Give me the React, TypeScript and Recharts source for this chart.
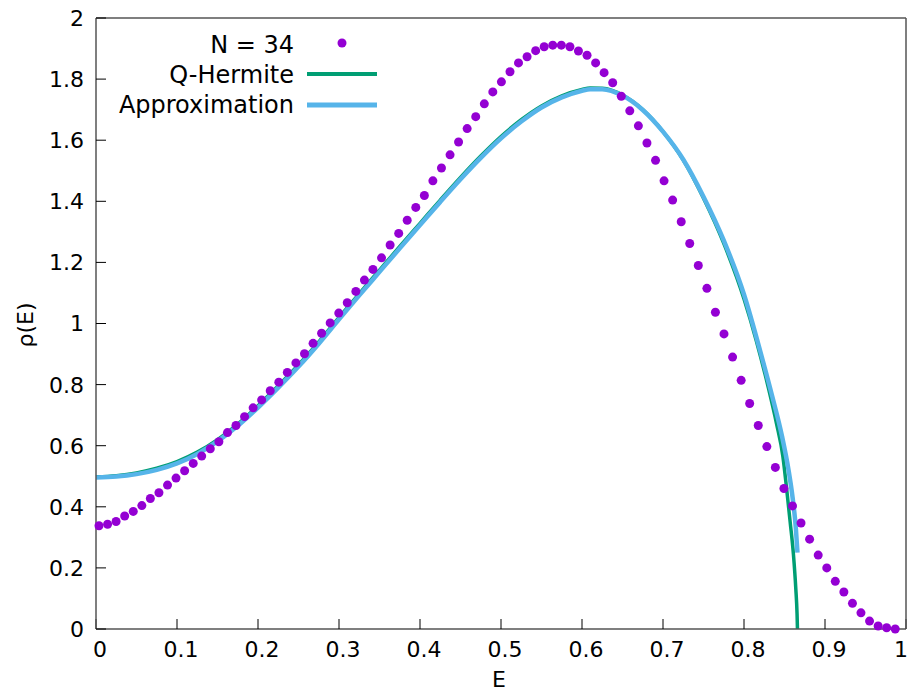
import React from 'react';
import { ComposedChart, XAxis, YAxis, Scatter, Line, Customized } from 'recharts';

const dotE = [
  0.0037, 0.0143, 0.0248, 0.0354, 0.0460, 0.0566, 0.0671, 0.0777, 0.0883, 0.0988,
  0.1094, 0.1200, 0.1305, 0.1411, 0.1517, 0.1623, 0.1728, 0.1834, 0.1940, 0.2045,
  0.2151, 0.2257, 0.2362, 0.2468, 0.2574, 0.2680, 0.2785, 0.2891, 0.2997, 0.3102,
  0.3208, 0.3314, 0.3419, 0.3525, 0.3631, 0.3737, 0.3842, 0.3948, 0.4054, 0.4159,
  0.4265, 0.4371, 0.4476, 0.4582, 0.4688, 0.4794, 0.4899, 0.5005, 0.5111, 0.5216,
  0.5322, 0.5428, 0.5533, 0.5639, 0.5745, 0.5851, 0.5956, 0.6062, 0.6168, 0.6273,
  0.6379, 0.6485, 0.6590, 0.6696, 0.6802, 0.6908, 0.7013, 0.7119, 0.7225, 0.7330,
  0.7436, 0.7542, 0.7647, 0.7753, 0.7859, 0.7965, 0.8070, 0.8176, 0.8282, 0.8387,
  0.8493, 0.8599, 0.8704, 0.8810, 0.8916, 0.9022, 0.9127, 0.9233, 0.9339, 0.9444,
  0.9550, 0.9656, 0.9761, 0.9867,
];
const dotRho = [
  0.338, 0.343, 0.352, 0.370, 0.385, 0.404, 0.427, 0.446, 0.471, 0.494,
  0.518, 0.542, 0.566, 0.590, 0.613, 0.643, 0.666, 0.695, 0.724, 0.750,
  0.780, 0.808, 0.840, 0.871, 0.901, 0.935, 0.968, 1.002, 1.034, 1.068,
  1.105, 1.142, 1.177, 1.215, 1.257, 1.295, 1.338, 1.380, 1.419, 1.467,
  1.509, 1.552, 1.594, 1.638, 1.677, 1.719, 1.758, 1.791, 1.824, 1.853,
  1.873, 1.893, 1.906, 1.911, 1.911, 1.906, 1.892, 1.878, 1.853, 1.821,
  1.788, 1.744, 1.696, 1.647, 1.591, 1.534, 1.467, 1.404, 1.333, 1.262,
  1.190, 1.115, 1.037, 0.966, 0.890, 0.814, 0.738, 0.666, 0.597, 0.529,
  0.460, 0.403, 0.347, 0.294, 0.242, 0.200, 0.156, 0.121, 0.084, 0.053,
  0.026, 0.010, 0.004, 0.000,
];

const hermE = [
  0, 0.025, 0.05, 0.075, 0.1, 0.125, 0.15, 0.175, 0.2, 0.225, 0.25, 0.275, 0.3,
  0.325, 0.35, 0.375, 0.4, 0.425, 0.45, 0.475, 0.5, 0.525, 0.55, 0.575, 0.6, 0.61,
  0.625, 0.65, 0.675, 0.7, 0.725, 0.75, 0.775, 0.8, 0.815, 0.83, 0.84, 0.848,
  0.853, 0.857, 0.861, 0.864, 0.8655, 0.866,
];
const hermRho = [
  0.498, 0.502, 0.511, 0.526, 0.548, 0.579, 0.620, 0.671, 0.731, 0.796, 0.865, 0.940, 1.020,
  1.098, 1.175, 1.252, 1.328, 1.404, 1.478, 1.548, 1.612, 1.667, 1.712, 1.745, 1.766, 1.771,
  1.770, 1.748, 1.700, 1.628, 1.535, 1.410, 1.262, 1.080, 0.945, 0.790, 0.674, 0.565,
  0.450, 0.350, 0.245, 0.130, 0.050, 0.000,
];

const approxE = [
  0, 0.025, 0.05, 0.075, 0.1, 0.125, 0.15, 0.175, 0.2, 0.225, 0.25, 0.275, 0.3,
  0.325, 0.35, 0.375, 0.4, 0.425, 0.45, 0.475, 0.5, 0.525, 0.55, 0.575, 0.6, 0.61,
  0.625, 0.65, 0.675, 0.7, 0.725, 0.75, 0.775, 0.8, 0.82, 0.835, 0.847, 0.855,
  0.86, 0.864, 0.866,
];
const approxRho = [
  0.496, 0.499, 0.507, 0.521, 0.542, 0.573, 0.614, 0.665, 0.725, 0.790, 0.859, 0.934, 1.014,
  1.092, 1.169, 1.246, 1.322, 1.398, 1.472, 1.542, 1.606, 1.661, 1.707, 1.740, 1.762, 1.767,
  1.767, 1.746, 1.699, 1.628, 1.537, 1.415, 1.272, 1.095, 0.910, 0.760, 0.630, 0.520,
  0.430, 0.330, 0.250,
];

const xTicks = [0, 0.1, 0.2, 0.3, 0.4, 0.5, 0.6, 0.7, 0.8, 0.9, 1];
const yTicks = [0, 0.2, 0.4, 0.6, 0.8, 1, 1.2, 1.4, 1.6, 1.8, 2];

const dots = dotE.map((x, i) => ({ x, y: dotRho[i] }));
const herm = hermE.map((x, i) => ({ x, y: hermRho[i] }));
const approx = approxE.map((x, i) => ({ x, y: approxRho[i] }));

const FONT = 'DejaVu Sans';
const PURPLE = '#9400d3';
const GREEN = '#009e73';
const BLUE = '#56b4e9';

const fmt = (v: number) => String(Number(v.toFixed(1)));

const Overlay = () => (
  <g fontFamily={FONT} fill="#000">
    <text x={294} y={53} fontSize={24} textAnchor="end">N = 34</text>
    <circle cx={342} cy={43} r={4.5} fill={PURPLE} />
    <text x={294} y={83} fontSize={24} textAnchor="end">Q-Hermite</text>
    <line x1={307} x2={377} y1={74} y2={74} stroke={GREEN} strokeWidth={4} />
    <text x={294} y={113} fontSize={24} textAnchor="end">Approximation</text>
    <line x1={307} x2={377} y1={105} y2={105} stroke={BLUE} strokeWidth={5} />
    <text x={499} y={687} fontSize={22} textAnchor="middle">E</text>
    <text x={0} y={0} fontSize={22} textAnchor="middle" transform="translate(33,325) rotate(-90)">ρ(E)</text>
  </g>
);

const BottomTick = (p: any) => {
  const last = p.payload.value === 1;
  return (
    <text x={last ? p.x + 2 : p.x + 4} y={p.y} dy="0.72em" textAnchor={last ? 'end' : 'middle'}
      fontSize={22} fontFamily={FONT} fill="#000">
      {fmt(p.payload.value)}
    </text>
  );
};
const LeftTick = (p: any) => (
  <text x={p.x} y={p.y} dy="0.36em" textAnchor="end" fontSize={22} fontFamily={FONT} fill="#000">
    {fmt(p.payload.value)}
  </text>
);
const NoTick = () => <g />;

export default function App() {
  const axisLine = { stroke: '#555', strokeWidth: 1.5 };
  const tickLine = { stroke: '#000', strokeWidth: 1 };
  return (
    <div style={{ width: 917, height: 691, margin: '-8px 0 0 -8px' }}>
      <style>{'html{overflow:hidden;} .recharts-wrapper, svg.recharts-surface{overflow:visible !important;}'}</style>
      <ComposedChart width={917} height={691} margin={{ top: 17, right: 10, bottom: 61, left: 95 }}>
        <XAxis dataKey="x" type="number" domain={[0, 1]} ticks={xTicks}
          height={1} tickSize={-10} tickMargin={22} tick={BottomTick} axisLine={axisLine} tickLine={tickLine}
          interval={0} />
        <XAxis xAxisId="top" orientation="top" dataKey="x" type="number" domain={[0, 1]} ticks={xTicks}
          height={1} tickSize={-10} tick={NoTick} axisLine={axisLine} tickLine={tickLine} interval={0} />
        <YAxis type="number" domain={[0, 2]} ticks={yTicks} width={1}
          tickSize={-10} tickMargin={22} tick={LeftTick} axisLine={axisLine} tickLine={tickLine} interval={0} />
        <YAxis yAxisId="right" orientation="right" type="number" domain={[0, 2]} ticks={yTicks} width={1}
          tickSize={-10} tick={NoTick} axisLine={axisLine} tickLine={tickLine} interval={0} />
        <Scatter data={dots} dataKey="y" fill={PURPLE} isAnimationActive={false}
          shape={(p: any) => <circle cx={p.cx} cy={p.cy} r={4.5} fill={PURPLE} />} />
        <Line data={herm} dataKey="y" type="monotone" stroke={GREEN} strokeWidth={3.5} dot={false} isAnimationActive={false} />
        <Line data={approx} dataKey="y" type="monotone" stroke={BLUE} strokeWidth={4.5} dot={false} isAnimationActive={false} />
        <Customized component={Overlay} />
      </ComposedChart>
    </div>
  );
}
